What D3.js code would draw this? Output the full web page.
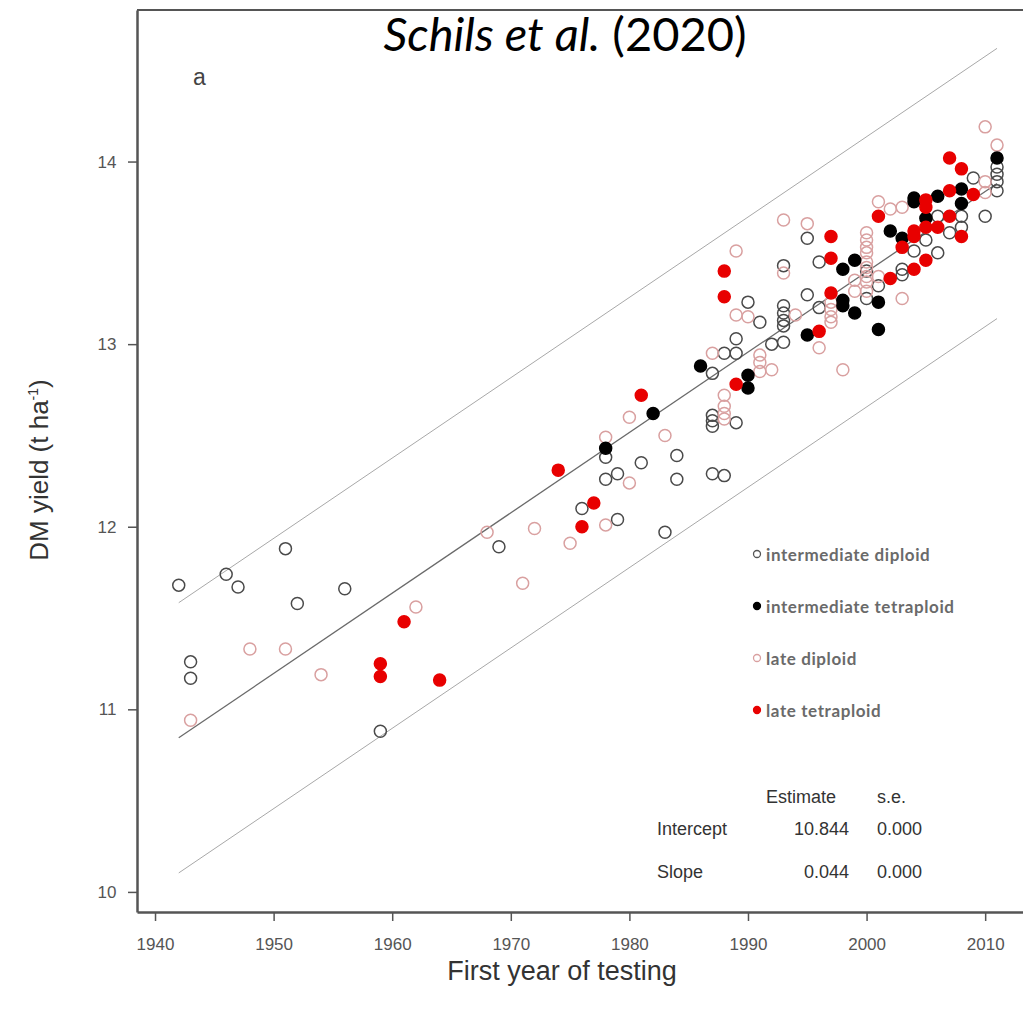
<!DOCTYPE html>
<html>
<head>
<meta charset="utf-8">
<script src="https://cdn.jsdelivr.net/npm/d3@7"></script>
<style>
  body { margin: 0; background: #fff; }
  svg { display: block; }
</style>
</head>
<body>
<svg id="chart"></svg>
<script>
// [year, DM yield] per group
const intermediateDiploid = [
  [1942,11.68],[1943,11.26],[1943,11.17],[1946,11.74],[1947,11.67],[1951,11.88],[1952,11.58],
  [1956,11.66],[1959,10.88],[1969,11.89],[1976,12.10],[1978,12.38],[1978,12.26],[1979,12.29],
  [1979,12.04],[1981,12.35],[1983,11.97],[1984,12.39],[1984,12.26],[1987,12.29],[1988,12.28],
  [1987,12.61],[1987,12.58],[1987,12.55],[1989,12.57],[1987,12.84],[1988,12.95],[1989,13.03],
  [1989,12.95],[1990,13.23],[1991,13.12],[1992,13.00],[1993,13.01],[1993,13.21],[1993,13.17],
  [1993,13.13],[1993,13.10],[1993,13.43],[1995,13.58],[1995,13.27],[1996,13.45],[1996,13.20],
  [2000,13.40],[2000,13.25],[2001,13.32],[2003,13.41],[2003,13.38],[2004,13.51],[2005,13.57],
  [2006,13.50],[2006,13.70],[2007,13.61],[2008,13.64],[2008,13.70],[2009,13.91],[2010,13.70],
  [2011,13.97],[2011,13.93],[2011,13.89],[2011,13.84]
];
const intermediateTetraploid = [
  [1978,12.43],[1982,12.62],[1986,12.88],[1990,12.83],[1990,12.76],[1995,13.05],[1998,13.41],
  [1999,13.46],[1998,13.24],[1998,13.21],[1999,13.17],[2001,13.23],[2001,13.08],[2002,13.62],
  [2003,13.58],[2004,13.80],[2004,13.78],[2005,13.69],[2006,13.81],[2008,13.85],[2008,13.77],
  [2011,14.02]
];
const lateDiploid = [
  [1943,10.94],[1948,11.33],[1951,11.33],[1954,11.19],[1962,11.56],[1968,11.97],[1971,11.69],
  [1972,11.99],[1975,11.91],[1978,12.49],[1978,12.01],[1980,12.60],[1980,12.24],[1983,12.50],
  [1987,12.95],[1988,12.72],[1988,12.66],[1988,12.62],[1988,12.59],[1989,13.51],[1989,13.16],
  [1990,13.15],[1991,12.94],[1991,12.90],[1991,12.85],[1992,12.86],[1993,13.68],[1993,13.39],
  [1994,13.16],[1995,13.66],[1996,12.98],[1997,13.23],[1997,13.19],[1997,13.15],[1997,13.12],
  [1998,12.86],[1999,13.29],[1999,13.35],[2000,13.61],[2000,13.57],[2000,13.53],[2000,13.50],
  [2000,13.45],[2000,13.42],[2000,13.37],[2000,13.34],[2000,13.29],[2001,13.78],[2001,13.37],
  [2002,13.74],[2003,13.75],[2003,13.25],[2010,14.19],[2010,13.89],[2010,13.83],[2011,14.09]
];
const lateTetraploid = [
  [1959,11.25],[1959,11.18],[1961,11.48],[1964,11.16],[1974,12.31],[1976,12.00],[1977,12.13],
  [1981,12.72],[1988,13.40],[1988,13.26],[1989,12.78],[1996,13.07],[1997,13.59],[1997,13.47],
  [1997,13.28],[2001,13.70],[2002,13.36],[2003,13.53],[2004,13.62],[2004,13.59],[2004,13.41],
  [2005,13.79],[2005,13.75],[2005,13.64],[2005,13.46],[2006,13.64],[2007,14.02],[2007,13.84],
  [2007,13.70],[2008,13.96],[2008,13.59],[2009,13.82]
];

const legendLabels = ['intermediate diploid','intermediate tetraploid','late diploid','late tetraploid'];
const xTicks = [1940,1950,1960,1970,1980,1990,2000,2010];
const yTicks = [10,11,12,13,14];

// regression: yield = intercept + slope * (year - 1942), band +/- 0.74
const fitStart = 1942, fitEnd = 2011;
const intercept = 10.844, slope = 0.044, band = 0.74;
const statsRows = [['Intercept','10.844','0.000'],['Slope','0.044','0.000']];

const width = 1023, height = 1012;
const mLeft = 137, mRight = 1023, mTop = 10, mBottom = 912;

const svg = d3.select('#chart').attr('width', width).attr('height', height);

const x = d3.scaleLinear().domain([1938.48, 2013.19]).range([mLeft, mRight]);
const y = d3.scaleLinear().domain([9.89, 14.83]).range([mBottom, mTop]);

// frame top line
svg.append('line')
  .attr('x1', mLeft).attr('x2', mRight).attr('y1', mTop).attr('y2', mTop)
  .attr('stroke', '#555').attr('stroke-width', 2);

const xAxis = svg.append('g')
  .attr('transform', 'translate(0,' + mBottom + ')')
  .call(d3.axisBottom(x).tickValues(xTicks).tickFormat(d3.format('d')).tickSize(9).tickSizeOuter(0));
const yAxis = svg.append('g')
  .attr('transform', 'translate(' + mLeft + ',0)')
  .call(d3.axisLeft(y).tickValues(yTicks).tickFormat(d3.format('d')).tickSize(9).tickSizeOuter(0));

[xAxis, yAxis].forEach(g => {
  g.select('.domain').attr('stroke', '#555').attr('stroke-width', 2.5);
  g.selectAll('.tick line').attr('stroke', '#555').attr('stroke-width', 1.5);
  g.selectAll('.tick text').attr('fill', '#555')
    .style('font-family', 'Liberation Sans, Arial, sans-serif').style('font-size', '17px');
});
xAxis.selectAll('.tick text').attr('dy', '1.55em');
yAxis.selectAll('.tick text').attr('dx', '-0.5em');

// fit line and bands
const offsets = [0, band, -band];
offsets.forEach((o, i) => {
  svg.append('line')
    .attr('x1', x(fitStart)).attr('y1', y(intercept + o))
    .attr('x2', x(fitEnd)).attr('y2', y(intercept + slope * (fitEnd - fitStart) + o))
    .attr('stroke', i === 0 ? '#6a6a6a' : '#a8a8a8')
    .attr('stroke-width', i === 0 ? 1.3 : 1);
});

const groups = [
  { data: intermediateDiploid, fill: 'none', stroke: '#4a4a4a' },
  { data: lateDiploid, fill: 'none', stroke: '#d9a0a0' },
  { data: intermediateTetraploid, fill: '#000', stroke: '#000' },
  { data: lateTetraploid, fill: '#e80000', stroke: '#e80000' }
];

groups.forEach(g => {
  svg.append('g').selectAll('circle')
    .data(g.data)
    .enter()
    .append('circle')
    .attr('cx', d => x(d[0]))
    .attr('cy', d => y(d[1]))
    .attr('r', 6)
    .attr('fill', g.fill)
    .attr('stroke', g.stroke)
    .attr('stroke-width', 1.5);
});

// legend
const legendStyle = [
  { fill: 'none', stroke: '#555' },
  { fill: '#000', stroke: '#000' },
  { fill: 'none', stroke: '#d9a0a0' },
  { fill: '#e80000', stroke: '#e80000' }
];
const legend = svg.append('g');
legendLabels.forEach((lab, i) => {
  const ly = 555 + i * 52;
  legend.append('circle').attr('cx', 757).attr('cy', ly - 1).attr('r', 3.5)
    .attr('fill', legendStyle[i].fill).attr('stroke', legendStyle[i].stroke).attr('stroke-width', 1.3);
  legend.append('text').attr('x', 766).attr('y', ly + 6).text(lab)
    .attr('fill', '#6a6a6a').style('font-family', 'Lato, sans-serif').style('font-weight', 'bold')
    .style('font-size', '17px').style('letter-spacing', '0.6px');
});

// stats table
const tbl = svg.append('g').style('font-family', 'Liberation Sans, Arial, sans-serif')
  .style('font-size', '18px').attr('fill', '#333');
tbl.append('text').attr('x', 766).attr('y', 803).text('Estimate');
tbl.append('text').attr('x', 877).attr('y', 803).text('s.e.');
statsRows.forEach((r, i) => {
  const ty = 835 + i * 43;
  tbl.append('text').attr('x', 657).attr('y', ty).text(r[0]);
  tbl.append('text').attr('x', 849).attr('y', ty).attr('text-anchor', 'end').text(r[1]);
  tbl.append('text').attr('x', 877).attr('y', ty).text(r[2]);
});

// panel letter
svg.append('text').attr('x', 193).attr('y', 85).text('a')
  .style('font-family', 'Liberation Sans, Arial, sans-serif').style('font-size', '23px').attr('fill', '#444');

// title
const title = svg.append('text').attr('x', 565).attr('y', 51).attr('text-anchor', 'middle')
  .style('font-family', 'Lato, sans-serif').style('font-size', '47px').attr('fill', '#000');
title.append('tspan').style('font-style', 'italic').text('Schils et al.');
title.append('tspan').text(' (2020)');

// axis titles
svg.append('text').attr('x', 562).attr('y', 980).attr('text-anchor', 'middle')
  .text('First year of testing')
  .style('font-family', 'Liberation Sans, Arial, sans-serif').style('font-size', '27px').attr('fill', '#333');

const yt = svg.append('text').attr('transform', 'translate(48,470) rotate(-90)').attr('text-anchor', 'middle')
  .style('font-family', 'Liberation Sans, Arial, sans-serif').style('font-size', '26px').attr('fill', '#333');
yt.append('tspan').text('DM yield (t ha');
yt.append('tspan').attr('dy', -10).style('font-size', '14px').text('-1');
yt.append('tspan').attr('dy', 10).text(')');
</script>
</body>
</html>
